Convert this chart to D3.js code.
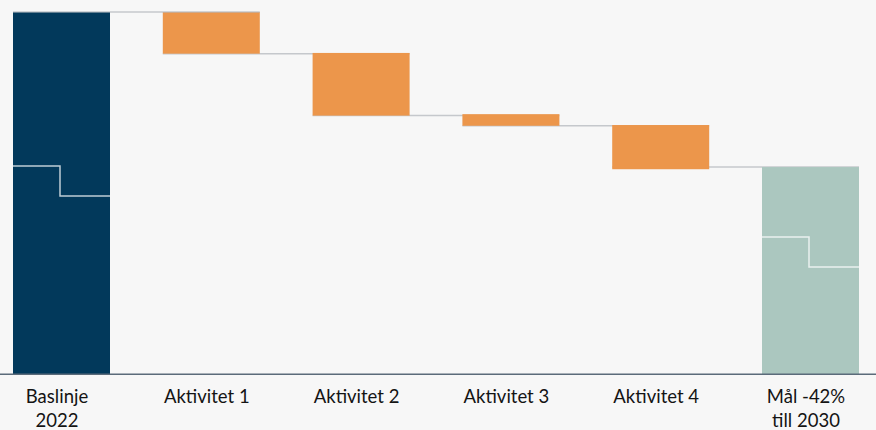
<!DOCTYPE html>
<html>
<head>
<meta charset="utf-8">
<script src="https://cdn.jsdelivr.net/npm/d3@7"></script>
<style>
  html, body { margin: 0; padding: 0; background: #f7f7f7; }
  svg { display: block; }
  text { font-family: Lato, "Open Sans", sans-serif; }
</style>
</head>
<body>
<svg id="chart" width="876" height="430"></svg>
<script>
// ---- data ----
const categories = [["Baslinje", "2022"], ["Aktivitet 1"], ["Aktivitet 2"], ["Aktivitet 3"], ["Aktivitet 4"], ["Mål -42%", "till 2030"]];
const baselineValue = 100;
const goalValue = 57.2;
const activityFrom = [100, 88.7, 71.8, 68.8];
const activityTo = [88.5, 71.4, 68.6, 56.6];
const baselineStep = [57.5, 49.2];
const goalStep = [37.9, 29.6];

const W = 876, H = 430;
const svg = d3.select("#chart");
svg.append("rect").attr("width", W).attr("height", H).attr("fill", "#f7f7f7");

const keys = categories.map((c, i) => "c" + i);
const x = d3.scaleBand().domain(keys).range([13, 859]).paddingInner(0.3525).paddingOuter(0);
const y = d3.scaleLinear().domain([0, 100]).range([374.3, 12]);

const bars = [];
bars.push({ k: keys[0], top: baselineValue, bottom: 0, color: "#02395b" });
activityFrom.forEach((v, i) => bars.push({ k: keys[i + 1], top: v, bottom: activityTo[i], color: "#ec964b" }));
bars.push({ k: keys[5], top: goalValue, bottom: 0, color: "#abc7bf" });

// connectors (beneath bars, except the first which overlays the baseline bar top)
const connLevels = [baselineValue, ...activityTo];
const connUnder = svg.append("g");
const barG = svg.append("g");
const connOver = svg.append("g");
connLevels.forEach((lv, i) => {
  const yy = i === connLevels.length - 1 ? y(goalValue) : y(lv);
  (i === 0 ? connOver : connUnder).append("line")
    .attr("x1", x(keys[i])).attr("x2", x(keys[i + 1]) + x.bandwidth())
    .attr("y1", yy).attr("y2", yy)
    .attr("stroke", "#b4b8bd").attr("stroke-opacity", 0.75).attr("stroke-width", 1.5);
});

barG.selectAll("rect").data(bars).join("rect")
  .attr("x", d => x(d.k))
  .attr("width", x.bandwidth())
  .attr("y", d => y(d.top))
  .attr("height", d => y(d.bottom) - y(d.top))
  .attr("fill", d => d.color);

// step lines inside baseline and goal bars
function stepLine(k, s) {
  const x0 = x(k), xm = x(k) + x.bandwidth() / 2 - 1.5, x1 = x(k) + x.bandwidth();
  const path = d3.path();
  path.moveTo(x0, y(s[0]));
  path.lineTo(xm, y(s[0]));
  path.lineTo(xm, y(s[1]));
  path.lineTo(x1, y(s[1]));
  svg.append("path").attr("d", path.toString())
    .attr("fill", "none").attr("stroke", "#ffffff").attr("stroke-opacity", 0.75).attr("stroke-width", 1.5);
}
stepLine(keys[0], baselineStep);
stepLine(keys[5], goalStep);

// axis
const axis = d3.axisBottom(x).tickSize(0).tickFormat("");
const ag = svg.append("g").attr("transform", `translate(0,${y(0)})`).call(axis);
ag.select(".domain").remove();
svg.append("line").attr("x1", 0).attr("x2", W).attr("y1", y(0)).attr("y2", y(0))
  .attr("stroke", "#5b6b7a").attr("stroke-width", 1.5);

// labels
const lab = svg.append("g");
categories.forEach((lines, i) => {
  const cx = x(keys[i]) + x.bandwidth() / 2 - 4.5;
  const t = lab.append("text")
    .attr("x", cx)
    .attr("y", 403)
    .attr("text-anchor", "middle")
    .attr("font-size", 18.5)
    .attr("fill", "#141414");
  lines.forEach((l, j) => {
    t.append("tspan").attr("x", cx).attr("dy", j === 0 ? 0 : 24).text(l);
  });
});
</script>
</body>
</html>
